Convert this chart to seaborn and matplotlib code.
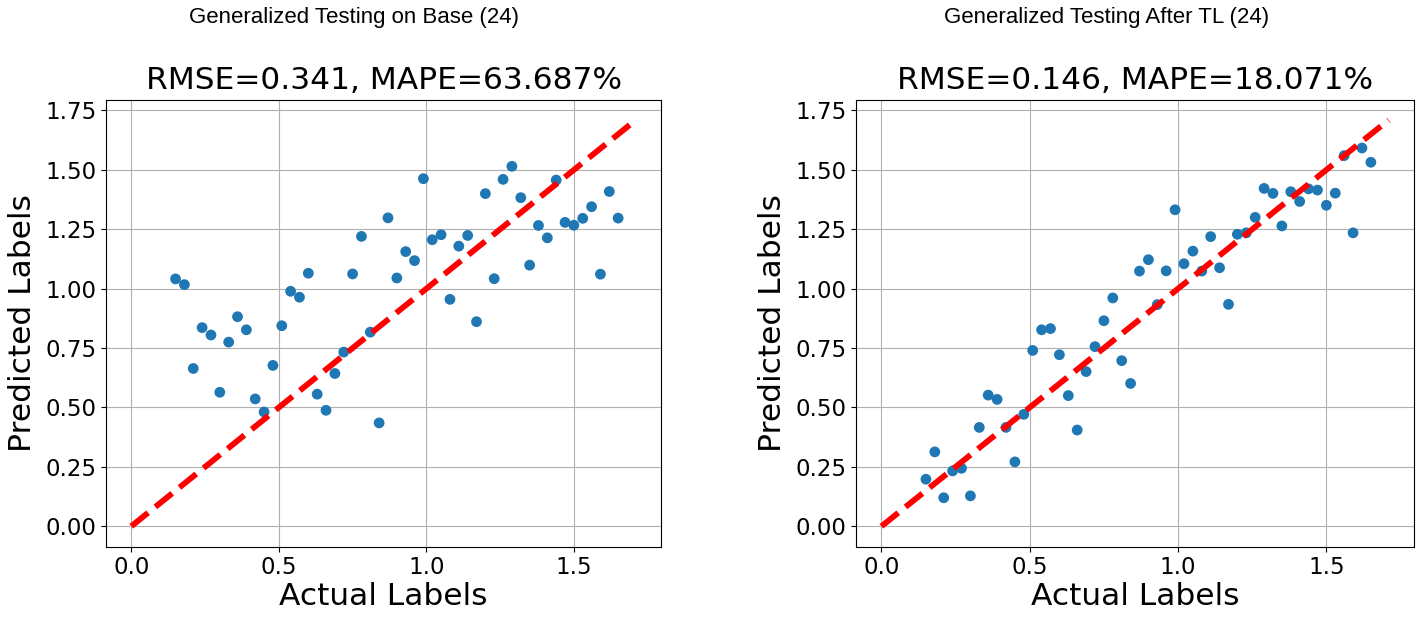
import numpy as np
import pandas as pd
import matplotlib
matplotlib.use("Agg")
import matplotlib.pyplot as plt
import seaborn as sns

# actual labels, shared by both panels
actual = [0.15, 0.18, 0.21, 0.24, 0.27, 0.30, 0.33, 0.36, 0.39, 0.42,
          0.45, 0.48, 0.51, 0.54, 0.57, 0.60, 0.63, 0.66, 0.69, 0.72,
          0.75, 0.78, 0.81, 0.84, 0.87, 0.90, 0.93, 0.96, 0.99, 1.02,
          1.05, 1.08, 1.11, 1.14, 1.17, 1.20, 1.23, 1.26, 1.29, 1.32,
          1.35, 1.38, 1.41, 1.44, 1.47, 1.50, 1.53, 1.56, 1.59, 1.62, 1.65]

# predictions on base model
pred_base = [1.041, 1.017, 0.664, 0.836, 0.805, 0.564, 0.775, 0.882, 0.827, 0.536,
             0.481, 0.677, 0.844, 0.989, 0.964, 1.065, 0.556, 0.488, 0.643, 0.733,
             1.062, 1.220, 0.817, 0.435, 1.298, 1.045, 1.156, 1.118, 1.463, 1.206,
             1.227, 0.955, 1.179, 1.224, 0.861, 1.400, 1.042, 1.460, 1.515, 1.383,
             1.099, 1.266, 1.214, 1.457, 1.279, 1.267, 1.296, 1.345, 1.061, 1.409, 1.297]

# predictions after transfer learning
pred_tl = [0.198, 0.313, 0.120, 0.233, 0.244, 0.128, 0.416, 0.552, 0.534, 0.416,
           0.271, 0.471, 0.740, 0.827, 0.832, 0.722, 0.550, 0.405, 0.651, 0.756,
           0.865, 0.961, 0.697, 0.601, 1.074, 1.122, 0.933, 1.075, 1.332, 1.105,
           1.158, 1.074, 1.219, 1.088, 0.934, 1.229, 1.235, 1.300, 1.422, 1.401,
           1.264, 1.408, 1.367, 1.420, 1.415, 1.351, 1.402, 1.560, 1.235, 1.592, 1.532]

ideal = [0.0, 1.71]

headers = ["Generalized Testing on Base (24)", "Generalized Testing After TL (24)"]
titles = ["RMSE=0.341, MAPE=63.687%", "RMSE=0.146, MAPE=18.071%"]
ticks = [0.0, 0.25, 0.5, 0.75, 1.0, 1.25, 1.5, 1.75]

fig = plt.figure(figsize=(14.18, 6.19), dpi=100)
ax1 = fig.add_axes([0.0748, 0.117, 0.3914, 0.722])
ax2 = fig.add_axes([0.6037, 0.117, 0.3935, 0.722])

head_font = ["Liberation Sans", "DejaVu Sans"]
head_x = [354 / 1418, 1107 / 1418]

for ax, pred, head, title, hx in zip([ax1, ax2], [pred_base, pred_tl], headers, titles, head_x):
    df = pd.DataFrame({"actual": actual, "pred": pred})
    sns.scatterplot(data=df, x="actual", y="pred", ax=ax, s=60,
                    color="#1f77b4", edgecolor="none", zorder=3)
    sns.lineplot(x=ideal, y=ideal, ax=ax, color="red", linestyle="--",
                 linewidth=4.2, zorder=4)
    ax.set_xticks([0.0, 0.5, 1.0, 1.5])
    ax.set_yticks(ticks)
    ax.set_xlim(-0.0855, 1.7955)
    ax.set_ylim(-0.0855, 1.7955)
    ax.grid(True, color="#b0b0b0", linewidth=0.8)
    ax.set_axisbelow(True)
    ax.tick_params(labelsize=16.5)
    ax.set_xlabel("Actual Labels", fontsize=22.5, labelpad=2)
    ax.set_ylabel("Predicted Labels", fontsize=22.5, labelpad=6)
    ax.set_title(title, fontsize=22.5, pad=8)
    fig.text(hx, 1 - 18 / 619, head, ha="center", va="center",
             fontsize=16, family=head_font)

fig.savefig("out.png", dpi=100)
